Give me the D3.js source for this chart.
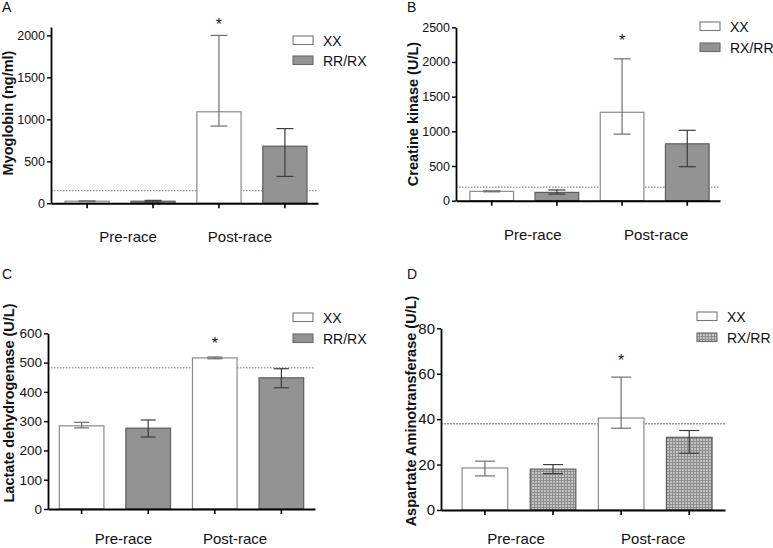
<!DOCTYPE html>
<html><head><meta charset="utf-8">
<script src="https://cdn.jsdelivr.net/npm/d3@7"></script>
<style>
body{margin:0;background:#fff}
svg{display:block}
text{font-family:"Liberation Sans",Arial,sans-serif;fill:#111}
</style>
</head><body>
<svg id="chart" width="773" height="548"></svg>
<script>
// ---------- DATA ----------
const groups = ["Pre-race", "Post-race"];
// bar order: [XX pre, other pre, XX post, other post]

// Panel A – Myoglobin
const myoSeries = ["XX", "RR/RX"];
const myoMean = [25, 25, 1090, 680];
const myoLow  = [20, 15, 920, 320];
const myoHigh = [30, 35, 2000, 890];
const myoTicks = [0, 500, 1000, 1500, 2000];
const myoRef = 150;

// Panel B – Creatine kinase
const ckSeries = ["XX", "RX/RR"];
const ckMean = [135, 120, 1275, 820];
const ckLow  = [128, 95, 960, 490];
const ckHigh = [142, 155, 2045, 1015];
const ckTicks = [0, 500, 1000, 1500, 2000, 2500];
const ckRef = 195;

// Panel C – Lactate dehydrogenase
const ldhSeries = ["XX", "RR/RX"];
const ldhMean = [284, 276, 516, 448];
const ldhLow  = [277, 246, 513, 414];
const ldhHigh = [296, 304, 519, 479];
const ldhTicks = [0, 100, 200, 300, 400, 500, 600];
const ldhRef = 482;

// Panel D – Aspartate Aminotransferase
const astSeries = ["XX", "RX/RR"];
const astMean = [18.5, 18, 40.5, 32];
const astLow  = [15, 16, 36, 25];
const astHigh = [21.5, 20, 58.5, 35];
const astTicks = [0, 20, 40, 60, 80];
const astRef = 38;

// significant bar (asterisk) index
const starIndex = 2;

// ---------- LAYOUT ----------
const svg = d3.select("#chart");
const defs = svg.append("defs");
const pat = defs.append("pattern").attr("id", "dots")
  .attr("patternUnits", "userSpaceOnUse").attr("width", 3).attr("height", 3);
pat.append("rect").attr("width", 3).attr("height", 3).attr("fill", "#c2c2c2");
pat.append("rect").attr("width", 3).attr("height", 1).attr("fill", "#8e8e8e");
pat.append("rect").attr("width", 1).attr("height", 3).attr("fill", "#8e8e8e");

const panels = [
  {letter:"A", lx:2, ly:12, title:"Myoglobin (ng/ml)", tx:12.5, ty:113,
   series:myoSeries, mean:myoMean, low:myoLow, high:myoHigh, ticks:myoTicks, ref:myoRef,
   x0:51, x1:318, yB:203.3, yT:27, max:2100, po:0.19, align:0.56,
   tickFont:12.5, cap:17, starGap:5, legX:293, legY:36, legGap:20, catY:242, catOff:[8,-12],
   fill2:"#939393"},
  {letter:"B", lx:407, ly:12, title:"Creatine kinase (U/L)", tx:417.5, ty:114,
   series:ckSeries, mean:ckMean, low:ckLow, high:ckHigh, ticks:ckTicks, ref:ckRef,
   x0:456, x1:720, yB:200.7, yT:27.3, max:2500, po:0.19, align:0.56,
   tickFont:12.5, cap:17, starGap:13, legX:700, legY:22, legGap:21, catY:240, catOff:[8.5,1.5],
   fill2:"#939393"},
  {letter:"C", lx:2, ly:279, title:"Lactate dehydrogenase (U/L)", tx:14, ty:403,
   series:ldhSeries, mean:ldhMean, low:ldhLow, high:ldhHigh, ticks:ldhTicks, ref:ldhRef,
   x0:48, x1:315, yB:509, yT:333.3, max:600, po:0.17, align:0.5,
   tickFont:13.5, cap:15, starGap:8, legX:293, legY:313, legGap:21, catY:544, catOff:[8.5,-13],
   fill2:"#939393"},
  {letter:"D", lx:407, ly:279, title:"Aspartate Aminotransferase (U/L)", tx:415.5, ty:411,
   series:astSeries, mean:astMean, low:astLow, high:astHigh, ticks:astTicks, ref:astRef,
   x0:441, x1:725, yB:510, yT:328.3, max:80, po:0.25, align:0.62,
   tickFont:15, cap:20, starGap:11.5, legX:697, legY:312, legGap:21, catY:544, catOff:[-3,-2],
   fill2:"url(#dots)"}
];

panels.forEach(p => {
  const g = svg.append("g");
  const ids = d3.range(p.mean.length);
  const x = d3.scaleBand().domain(ids).range([p.x0, p.x1])
    .paddingInner(0.33).paddingOuter(p.po).align(p.align);
  const y = d3.scaleLinear().domain([0, p.max]).range([p.yB, p.yT]);
  const bw = x.bandwidth();

  // reference dotted line
  g.append("line").attr("x1", p.x0).attr("x2", p.x1)
    .attr("y1", y(p.ref)).attr("y2", y(p.ref))
    .attr("stroke", p.letter === "D" ? "#9a9a9a" : "#666")
    .attr("stroke-width", p.letter === "D" ? 1.6 : 0.9)
    .attr("stroke-dasharray", p.letter === "D" ? "2,1" : "1.5,1.5");

  // bars
  g.selectAll("rect.bar").data(ids).join("rect")
    .attr("x", i => x(i)).attr("width", bw)
    .attr("y", i => y(p.mean[i])).attr("height", i => p.yB - y(p.mean[i]))
    .attr("fill", i => i % 2 === 0 ? "#fff" : p.fill2)
    .attr("stroke", i => i % 2 === 0 ? "#8a8a8a" : "#5c5c5c")
    .attr("stroke-width", 1.2);

  // error bars
  const eb = g.selectAll("g.eb").data(ids).join("g")
    .attr("stroke", i => i % 2 === 0 ? "#6e6e6e" : "#3c3c3c")
    .attr("stroke-width", 1.2);
  eb.append("line").attr("x1", i => x(i) + bw/2).attr("x2", i => x(i) + bw/2)
    .attr("y1", i => y(p.low[i])).attr("y2", i => y(p.high[i]));
  eb.append("line").attr("x1", i => x(i) + bw/2 - p.cap/2).attr("x2", i => x(i) + bw/2 + p.cap/2)
    .attr("y1", i => y(p.high[i])).attr("y2", i => y(p.high[i]));
  eb.append("line").attr("x1", i => x(i) + bw/2 - p.cap/2).attr("x2", i => x(i) + bw/2 + p.cap/2)
    .attr("y1", i => y(p.low[i])).attr("y2", i => y(p.low[i]));

  // asterisk
  g.append("text").attr("x", x(starIndex) + bw/2)
    .attr("y", y(p.high[starIndex]) - p.starGap)
    .attr("text-anchor", "middle").attr("font-size", 16).text("*");

  // y axis
  const ya = g.append("g").attr("transform", `translate(${p.x0},0)`)
    .call(d3.axisLeft(y).tickValues(p.ticks).tickSize(4).tickPadding(2).tickSizeOuter(0)
      .tickFormat(d3.format("d")));
  ya.select(".domain").attr("stroke", "#000").attr("stroke-width", 1.8);
  ya.selectAll(".tick line").attr("stroke", "#000").attr("stroke-width", 1.4);
  ya.selectAll(".tick text").attr("font-size", p.tickFont)
    .attr("font-family", "Liberation Sans, Arial, sans-serif").attr("fill", "#111");

  // x axis
  const xa = g.append("g").attr("transform", `translate(0,${p.yB})`)
    .call(d3.axisBottom(x).tickSize(5).tickSizeOuter(0).tickFormat(""));
  xa.select(".domain").attr("stroke", "#000").attr("stroke-width", 2);
  xa.selectAll(".tick line").attr("stroke", "#000").attr("stroke-width", 1.6);

  // category labels
  groups.forEach((gname, gi) => {
    const cx = (x(gi*2) + x(gi*2+1) + bw) / 2 + p.catOff[gi];
    g.append("text").attr("x", cx).attr("y", p.catY)
      .attr("text-anchor", "middle").attr("font-size", 15).text(gname);
  });

  // y title
  g.append("text").attr("transform", `translate(${p.tx},${p.ty}) rotate(-90)`)
    .attr("text-anchor", "middle").attr("font-size", 14.5).attr("font-weight", "bold")
    .text(p.title);

  // panel letter
  g.append("text").attr("x", p.lx).attr("y", p.ly).attr("font-size", 14).text(p.letter);

  // legend
  p.series.forEach((s, si) => {
    const ly = p.legY + si * p.legGap;
    g.append("rect").attr("x", p.legX).attr("y", ly).attr("width", 20).attr("height", 8.5)
      .attr("fill", si === 0 ? "#fff" : p.fill2)
      .attr("stroke", si === 0 ? "#777" : "#6a6a6a").attr("stroke-width", 1.1);
    g.append("text").attr("x", p.legX + 30).attr("y", ly + 9.5)
      .attr("font-size", 14).text(s);
  });
});
</script>
</body></html>
